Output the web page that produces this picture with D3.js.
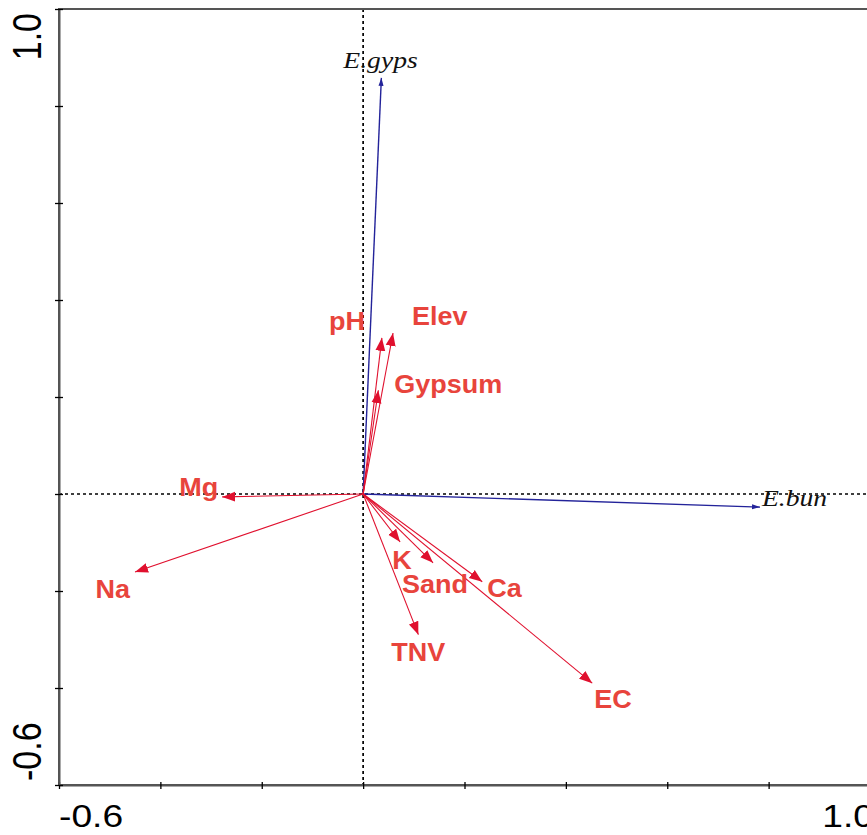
<!DOCTYPE html>
<html>
<head>
<meta charset="utf-8">
<script src="https://cdn.jsdelivr.net/npm/d3@7"></script>
<style>
  html, body { margin: 0; padding: 0; background: #fff; overflow: hidden; }
</style>
</head>
<body>
<div id="chart"></div>
<script>
// 환경 변수 벡터 (축1, 축2 좌표)
const envNames = ["pH", "Elev", "Gypsum", "Mg", "Na", "K", "Sand", "Ca", "TNV", "EC"];
const envAxis1 = [0.037, 0.059, 0.030, -0.278, -0.450, 0.073, 0.138, 0.235, 0.109, 0.452];
const envAxis2 = [0.322, 0.332, 0.214, -0.006, -0.161, -0.099, -0.142, -0.181, -0.290, -0.390];

// 종 벡터
const speciesNames = ["E.gyps", "E.bun"];
const speciesAxis1 = [0.036, 0.783];
const speciesAxis2 = [0.858, -0.027];

// 축 눈금
const xTicks = [-0.6, -0.4, -0.2, 0, 0.2, 0.4, 0.6, 0.8, 1.0];
const yTicks = [-0.6, -0.4, -0.2, 0, 0.2, 0.4, 0.6, 0.8, 1.0];
const xTickLabels = ["-0.6", "1.0"];
const yTickLabels = ["-0.6", "1.0"];

// 라벨 위치 보정 (px)
const labelLayout = {
  "pH":     {dx: -17, dy: -8, anchor: "end"},
  "Elev":   {dx: 19,  dy: -8, anchor: "start"},
  "Gypsum": {dx: 16,  dy: 3,  anchor: "start"},
  "Mg":     {dx: -4,  dy: -1, anchor: "end"},
  "Na":     {dx: -5,  dy: 26, anchor: "end"},
  "K":      {dx: -8,  dy: 27, anchor: "start"},
  "Sand":   {dx: -31, dy: 30, anchor: "start"},
  "Ca":     {dx: 5,   dy: 15, anchor: "start"},
  "TNV":    {dx: -27, dy: 26, anchor: "start"},
  "EC":     {dx: 2,   dy: 25, anchor: "start"},
  "E.gyps": {dx: -38, dy: -10, anchor: "start"},
  "E.bun":  {dx: 2,   dy: -1, anchor: "start"}
};

const W = 867, H = 835;
const x = d3.scaleLinear().domain([-0.6, 1.0]).range([59, 870]);
const y = d3.scaleLinear().domain([-0.6, 1.0]).range([785, 9]);

const svg = d3.select("#chart").append("svg")
    .attr("width", W)
    .attr("height", H)
    .style("display", "block");

const defs = svg.append("defs");
defs.append("marker")
    .attr("id", "arrRed")
    .attr("markerUnits", "userSpaceOnUse")
    .attr("viewBox", "0 -6 14 12")
    .attr("refX", 13).attr("refY", 0)
    .attr("markerWidth", 14).attr("markerHeight", 12)
    .attr("orient", "auto")
  .append("path")
    .attr("d", "M0,-5L13,0L0,5Z")
    .attr("fill", "#e0102e");
defs.append("marker")
    .attr("id", "arrBlue")
    .attr("markerUnits", "userSpaceOnUse")
    .attr("viewBox", "0 -4 9 8")
    .attr("refX", 8).attr("refY", 0)
    .attr("markerWidth", 9).attr("markerHeight", 8)
    .attr("orient", "auto")
  .append("path")
    .attr("d", "M0,-2.5L8,0L0,2.5Z")
    .attr("fill", "#23239a");

// 원점 점선
svg.append("line")
    .attr("x1", x(0)).attr("x2", x(0))
    .attr("y1", y(1.0)).attr("y2", y(-0.6))
    .attr("stroke", "#000").attr("stroke-width", 1.7)
    .attr("stroke-dasharray", "3,3");
svg.append("line")
    .attr("x1", x(-0.6)).attr("x2", W)
    .attr("y1", y(0)).attr("y2", y(0))
    .attr("stroke", "#000").attr("stroke-width", 1.7)
    .attr("stroke-dasharray", "3,3");

// 테두리 (위/오른쪽)
svg.append("rect")
    .attr("x", x(-0.6)).attr("y", y(1.0))
    .attr("width", x(1.0) - x(-0.6)).attr("height", y(-0.6) - y(1.0))
    .attr("fill", "none").attr("stroke", "#555").attr("stroke-width", 2);

// 축
const xAxis = svg.append("g")
    .attr("transform", `translate(0,${y(-0.6)})`)
    .call(d3.axisBottom(x).tickValues(xTicks).tickFormat("").tickSizeOuter(0));
const yAxis = svg.append("g")
    .attr("transform", `translate(${x(-0.6)},0)`)
    .call(d3.axisLeft(y).tickValues(yTicks).tickFormat("").tickSizeOuter(0));
[xAxis, yAxis].forEach(g => {
  g.select(".domain").attr("stroke", "#555").attr("stroke-width", 2);
  g.selectAll(".tick line").attr("stroke", "#000").attr("stroke-width", 1.3);
});
xAxis.selectAll(".tick line").attr("y1", -3).attr("y2", 4);
yAxis.selectAll(".tick line").attr("x1", 4).attr("x2", -4);

// 눈금 라벨
const tickFont = "'Liberation Sans', Arial, sans-serif";
svg.append("text")
    .attr("transform", `translate(${x(-0.6)},827) scale(1.2,1)`)
    .attr("text-anchor", "start")
    .style("font-family", tickFont).style("font-size", "31px")
    .attr("fill", "#000").text(xTickLabels[0]);
svg.append("text")
    .attr("transform", `translate(${x(1.0) + 4},827) scale(1.2,1)`)
    .attr("text-anchor", "end")
    .style("font-family", tickFont).style("font-size", "31px")
    .attr("fill", "#000").text(xTickLabels[1]);
svg.append("text")
    .attr("transform", `translate(41,${y(-0.6) - 4}) scale(1.2,1) rotate(-90)`)
    .attr("text-anchor", "start")
    .style("font-family", tickFont).style("font-size", "34px")
    .attr("fill", "#000").text(yTickLabels[0]);
svg.append("text")
    .attr("transform", `translate(41,${y(1.0) + 4}) scale(1.2,1) rotate(-90)`)
    .attr("text-anchor", "end")
    .style("font-family", tickFont).style("font-size", "34px")
    .attr("fill", "#000").text(yTickLabels[1]);

// 벡터 데이터
const envData = envNames.map((n, i) => ({name: n, a1: envAxis1[i], a2: envAxis2[i]}));
const spData = speciesNames.map((n, i) => ({name: n, a1: speciesAxis1[i], a2: speciesAxis2[i]}));

// 종 화살표
svg.selectAll(".sp")
    .data(spData)
    .enter().append("line")
    .attr("class", "sp")
    .attr("x1", x(0)).attr("y1", y(0))
    .attr("x2", d => x(d.a1)).attr("y2", d => y(d.a2))
    .attr("stroke", "#23239a").attr("stroke-width", 1.4)
    .attr("marker-end", "url(#arrBlue)");

// 환경 변수 화살표
svg.selectAll(".env")
    .data(envData)
    .enter().append("line")
    .attr("class", "env")
    .attr("x1", x(0)).attr("y1", y(0))
    .attr("x2", d => x(d.a1)).attr("y2", d => y(d.a2))
    .attr("stroke", "#e0102e").attr("stroke-width", 1.1)
    .attr("marker-end", "url(#arrRed)");

// 라벨
svg.selectAll(".spLabel")
    .data(spData)
    .enter().append("text")
    .attr("class", "spLabel")
    .attr("transform", d => {
      const L = labelLayout[d.name];
      return `translate(${x(d.a1) + L.dx},${y(d.a2) + L.dy}) scale(1.2,1)`;
    })
    .attr("text-anchor", d => labelLayout[d.name].anchor)
    .style("font-family", "'Liberation Serif', 'Times New Roman', serif")
    .style("font-style", "italic")
    .style("font-size", "23px")
    .attr("fill", "#111")
    .text(d => d.name);

svg.selectAll(".envLabel")
    .data(envData)
    .enter().append("text")
    .attr("class", "envLabel")
    .attr("transform", d => {
      const L = labelLayout[d.name];
      return `translate(${x(d.a1) + L.dx},${y(d.a2) + L.dy}) scale(1.08,1)`;
    })
    .attr("text-anchor", d => labelLayout[d.name].anchor)
    .style("font-family", "'Liberation Sans', Arial, sans-serif")
    .style("font-weight", "bold")
    .style("font-size", "25px")
    .attr("fill", "#e8443c")
    .text(d => d.name);
</script>
</body>
</html>
